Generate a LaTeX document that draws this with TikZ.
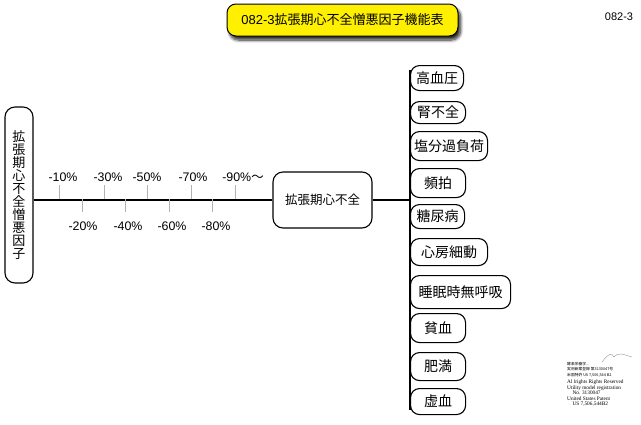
\documentclass[tikz,border=0pt]{standalone}
\usepackage{fontspec}
\setmainfont{Liberation Sans}
\newfontfamily\jp{Noto Sans CJK JP}
\newfontfamily\serifen{Liberation Serif}
\usetikzlibrary{shadows.blur}
\definecolor{ttl}{HTML}{FFF000}
\tikzset{
  conn/.style={line width=1.1pt},
  tickline/.style={line width=0.6pt, draw=gray!60},
  pct/.style={font=\fontsize{12.4}{14}\selectfont, inner sep=0pt},
  rbox/.style={draw, line width=1.1pt, rounded corners=9pt, anchor=north west,
    inner sep=0pt, font=\jp\fontsize{14}{16}\selectfont},
  mainbox/.style={draw, line width=1.1pt, rounded corners=10pt, inner sep=0pt},
}
\begin{document}
\begin{tikzpicture}[x=1pt,y=-1pt]
\useasboundingbox (0,0) rectangle (641,424);

% title
\node[draw, line width=1pt, fill=ttl, rounded corners=9pt, minimum width=231pt,
  minimum height=32pt, inner sep=0pt,
  blur shadow={shadow xshift=2.5pt, shadow yshift=-4pt, shadow opacity=85,
    shadow blur radius=3pt, shadow blur steps=8}]
  (title) at (342.5,20) {\fontsize{13}{15}\selectfont 082-3{\jp 拡張期心不全憎悪因子機能表}};
\node[font=\fontsize{11}{12}\selectfont, inner sep=0pt] (code) at (619,17) {082-3};

% left box
\node[mainbox, minimum width=28pt, minimum height=176pt, align=center,
  font=\jp\fontsize{13}{13}\selectfont] (lbox) at (19,195)
  {拡\\張\\期\\心\\不\\全\\憎\\悪\\因\\子};

% center box
\node[mainbox, minimum width=99pt, minimum height=56pt,
  font=\jp\fontsize{12.5}{14}\selectfont] (cbox) at (322.5,200) {拡張期心不全};

% main line
\draw[conn] (lbox.east |- cbox.west) -- (cbox.west);

% ticks
\foreach \n/\x in {1/59,3/104,5/147,7/191,9/235}{
  \coordinate (t\n) at (\x,199);
  \coordinate (e\n) at (\x,185);
  \draw[tickline] (t\n) -- (e\n);
}
\foreach \n/\x in {2/82,4/125,6/169,8/212}{
  \coordinate (t\n) at (\x,199);
  \coordinate (e\n) at (\x,212);
  \draw[tickline] (t\n) -- (e\n);
}
\node[pct] (p1) at (63,177) {-10\%};
\node[pct] (p3) at (108,177) {-30\%};
\node[pct] (p5) at (147,177) {-50\%};
\node[pct] (p7) at (193,177) {-70\%};
\node[pct] (p9) at (243,177) {-90\%{\jp ～}};
\node[pct] (p2) at (83,226) {-20\%};
\node[pct] (p4) at (128,226) {-40\%};
\node[pct] (p6) at (172,226) {-60\%};
\node[pct] (p8) at (216,226) {-80\%};

% right column
\coordinate (vtop) at (410,70);
\coordinate (vbot) at (410,410);
\draw[conn] (vtop) -- (vbot);
\draw[conn] (cbox.east) -- (cbox.east -| vtop);

\node[rbox, minimum width=53pt, minimum height=25pt] (r1) at (410,65) {高血圧};
\node[rbox, minimum width=55pt, minimum height=22pt] (r2) at (410,101) {腎不全};
\node[rbox, minimum width=77pt, minimum height=29pt] (r3) at (410,131) {塩分過負荷};
\node[rbox, minimum width=55pt, minimum height=29pt] (r4) at (410,168) {頻拍};
\node[rbox, minimum width=54pt, minimum height=24pt] (r5) at (410,204) {糖尿病};
\node[rbox, minimum width=77pt, minimum height=27pt] (r6) at (410,238) {心房細動};
\node[rbox, minimum width=100pt, minimum height=33pt] (r7) at (410,275) {睡眠時無呼吸};
\node[rbox, minimum width=55pt, minimum height=29pt] (r8) at (410,313) {貧血};
\node[rbox, minimum width=55pt, minimum height=28pt] (r9) at (410,352) {肥満};
\node[rbox, minimum width=55pt, minimum height=26pt] (r10) at (410,388) {虚血};

% bottom-right notes
\draw[gray, line width=0.3pt] (602,362) .. controls (608,354) and (612,352) .. (614,357)
  .. controls (618,352) and (622,354) .. (632,357);
\node[anchor=north west, align=left, inner sep=0pt,
  font=\jp\fontsize{3.8}{5.4}\selectfont] (jpnote) at (567,362)
  {酵素栄養学...\\実用新案登録 第3130047号\\米国特許 US 7,506,544 B2};
\node[anchor=north west, align=left, inner sep=0pt,
  font=\serifen\fontsize{5.3}{5.5}\selectfont] (ennote) at (567,380)
  {Al lrights Rights Reserved\\Utility model registration\\\quad No. 3130047\\United States Patent\\\quad US 7,506,544B2};
\end{tikzpicture}
\end{document}
